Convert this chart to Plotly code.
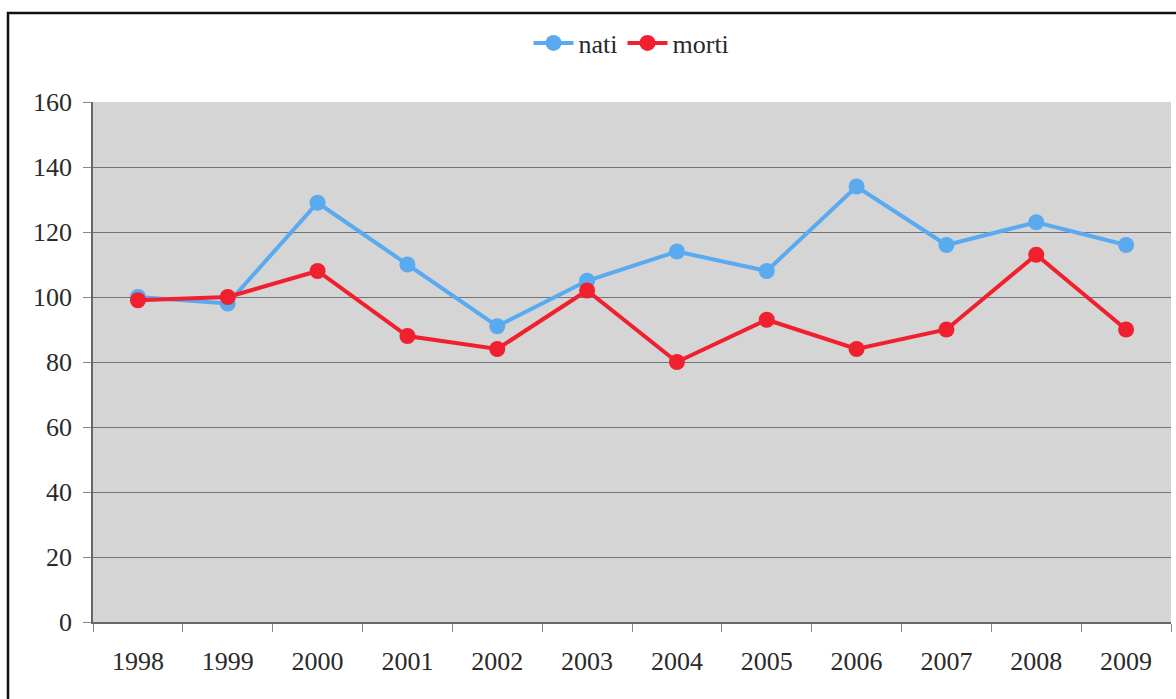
import plotly.graph_objects as go

# Annual births and deaths, 1998-2009
anni = ["1998", "1999", "2000", "2001", "2002", "2003",
        "2004", "2005", "2006", "2007", "2008", "2009"]
nati = [100, 98, 129, 110, 91, 105, 114, 108, 134, 116, 123, 116]
morti = [99, 100, 108, 88, 84, 102, 80, 93, 84, 90, 113, 90]

y_ticks = [0, 20, 40, 60, 80, 100, 120, 140, 160]

FONT = "'Liberation Serif', 'Times New Roman', serif"

fig = go.Figure()
fig.add_trace(go.Scatter(
    x=anni, y=nati, name="nati", mode="lines+markers",
    line=dict(color="#5aaaf0", width=4),
    marker=dict(color="#5aaaf0", size=16),
))
fig.add_trace(go.Scatter(
    x=anni, y=morti, name="morti", mode="lines+markers",
    line=dict(color="#f0202e", width=4),
    marker=dict(color="#f0202e", size=16),
))

# outer frame around the chart (paper coordinates relative to plot area)
L, R, T, B = 93, 5, 102, 77
W, H = 1176, 699
pw, ph = W - L - R, H - T - B
fig.add_shape(
    type="rect", xref="paper", yref="paper",
    x0=(8 - L) / pw, x1=(1190 - L) / pw,
    y0=-(712 - (H - B)) / ph, y1=((H - B) - 13) / ph,
    line=dict(color="#111111", width=2.5), fillcolor="rgba(0,0,0,0)",
    layer="below",
)

fig.update_layout(
    width=W, height=H,
    margin=dict(l=L, r=R, t=T, b=B, autoexpand=False),
    paper_bgcolor="white",
    plot_bgcolor="#d5d5d5",
    font=dict(family=FONT, size=26, color="#2a2a2a"),
    showlegend=True,
    legend=dict(
        orientation="h", xref="container", yref="container",
        x=0.537, xanchor="center", y=1 - 43 / H, yanchor="middle",
        font=dict(family=FONT, size=26, color="#2a2a2a"),
        bgcolor="rgba(0,0,0,0)", itemwidth=40,
    ),
    xaxis=dict(
        type="category", categoryorder="array", categoryarray=anni,
        showgrid=False, showline=True, linecolor="#666666", linewidth=1.5,
        ticks="outside", tickson="boundaries", ticklen=8, tickcolor="#888888",
        ticklabelstandoff=15,
        range=[-0.5, 11.5],
        mirror=False, zeroline=False,
    ),
    yaxis=dict(
        range=[0, 160], tickvals=y_ticks,
        showgrid=True, gridcolor="#747474", gridwidth=1,
        showline=True, linecolor="#666666", linewidth=1.5,
        ticks="outside", ticklen=8, tickcolor="#888888",
        zeroline=False, ticklabelstandoff=6,
    ),
)

fig.write_html("out.html")
